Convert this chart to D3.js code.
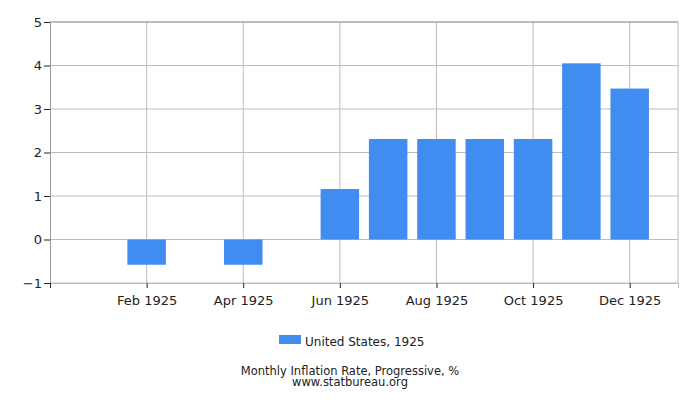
<!DOCTYPE html>
<html>
<head>
<meta charset="utf-8">
<script src="https://cdn.jsdelivr.net/npm/d3@7"></script>
<style>
  body { margin: 0; background: #fff; }
  text { font-family: "DejaVu Sans", sans-serif; fill: #222; }
</style>
</head>
<body>
<svg width="700" height="400"></svg>
<script>
// month index: 0 = Jan 1925
let months = ["Jan 1925", "Feb 1925", "Mar 1925", "Apr 1925", "May 1925", "Jun 1925",
  "Jul 1925", "Aug 1925", "Sep 1925", "Oct 1925", "Nov 1925", "Dec 1925"];
let values = [0, -0.58, 0, -0.58, 0, 1.16, 2.31, 2.31, 2.31, 2.31, 4.05, 3.47];
let yTicks = [-1, 0, 1, 2, 3, 4, 5];
let xTickIdx = [1, 3, 5, 7, 9, 11];

let svg = d3.select("svg");
let plotL = 50, plotR = 678, plotT = 22, plotB = 283;

let x = d3.scaleLinear().domain([-1, 12]).range([plotL, plotR]);
let y = d3.scaleLinear().domain([-1, 5]).range([plotB, plotT]);
let barW = 38.5;

// grid
let grid = svg.append("g");
grid.selectAll("line.h")
  .data(yTicks)
  .enter()
  .append("line")
  .attr("x1", plotL).attr("x2", plotR)
  .attr("y1", d => y(d)).attr("y2", d => y(d))
  .attr("stroke", "#bdbdbd");
grid.selectAll("line.v")
  .data(xTickIdx)
  .enter()
  .append("line")
  .attr("x1", d => x(d)).attr("x2", d => x(d))
  .attr("y1", plotT).attr("y2", plotB)
  .attr("stroke", "#bdbdbd");
grid.append("line")
  .attr("x1", plotR).attr("x2", plotR)
  .attr("y1", plotT).attr("y2", plotB)
  .attr("stroke", "#bdbdbd");
grid.append("line")
  .attr("x1", plotL).attr("x2", plotR)
  .attr("y1", plotT).attr("y2", plotT)
  .attr("stroke", "#999");

// bars
svg.append("g")
  .selectAll("rect")
  .data(values)
  .enter()
  .append("rect")
  .attr("x", (d, i) => x(i) - barW / 2)
  .attr("width", barW)
  .attr("y", d => y(Math.max(0, d)))
  .attr("height", d => Math.abs(y(d) - y(0)))
  .attr("fill", "#418cf0");

// axes
let yAxis = d3.axisLeft(y).tickValues(yTicks).tickSize(6).tickPadding(2).tickFormat(d3.format("d"));
let ya = svg.append("g").attr("transform", `translate(${plotL},0)`).call(yAxis);
ya.select(".domain").attr("stroke", "#999");
ya.selectAll(".tick line").attr("stroke", "#222");
ya.selectAll("text").style("font-size", "13px").attr("fill", "#222");

let xAxis = d3.axisBottom(x).tickValues([-1].concat(xTickIdx)).tickSize(5).tickPadding(8)
  .tickFormat(d => d < 0 ? "" : months[d]);
let xa = svg.append("g").attr("transform", `translate(0,${plotB})`).call(xAxis);
xa.select(".domain").attr("stroke", "#bdbdbd");
xa.selectAll(".tick line").attr("stroke", "#222");
xa.selectAll("text").style("font-size", "13px").attr("fill", "#222");

// legend
svg.append("rect").attr("x", 279).attr("y", 335).attr("width", 22).attr("height", 9).attr("fill", "#418cf0");
svg.append("text").attr("x", 305).attr("y", 345.5).style("font-size", "12px").text("United States, 1925");

// title
svg.append("text").attr("x", 350).attr("y", 375).attr("text-anchor", "middle")
  .style("font-size", "11.5px").text("Monthly Inflation Rate, Progressive, %");
svg.append("text").attr("x", 350).attr("y", 385.5).attr("text-anchor", "middle")
  .style("font-size", "11.5px").text("www.statbureau.org");
</script>
</body>
</html>
